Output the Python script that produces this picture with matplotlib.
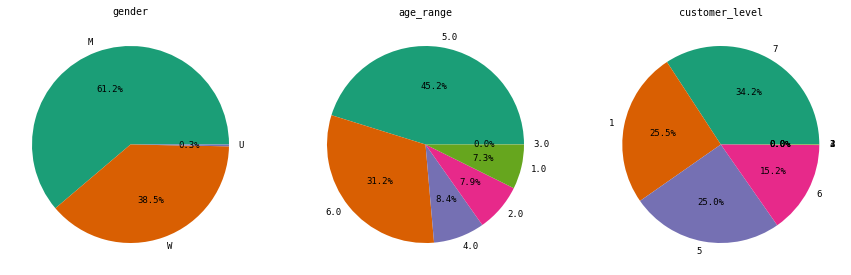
import numpy as np
import matplotlib
matplotlib.use('Agg')
import matplotlib.pyplot as plt

# value shares (percent)
gender_labels = ['M', 'W', 'U']
gender_vals = [61.2, 38.5, 0.3]

age_labels = ['5.0', '6.0', '4.0', '2.0', '1.0', '3.0']
age_vals = [45.2, 31.2, 8.4, 7.9, 7.3, 0.02]

level_labels = ['7', '1', '5', '6', '4', '3', '2']
level_vals = [34.2, 25.5, 25.0, 15.2, 0.04, 0.03, 0.02]

plt.rcParams['font.family'] = ['DejaVu Sans Mono']
plt.rcParams['font.size'] = 9

colors = plt.get_cmap('Dark2').colors

fig = plt.figure(figsize=(851/72, 275/72), dpi=72)
W, H = 851, 275
r = 98.5
centers = [130.5, 425.5, 720.8]
cy = 275 - 144.5
titles = ['gender', 'age_range', 'customer_level']
data = [(gender_labels, gender_vals), (age_labels, age_vals), (level_labels, level_vals)]

for cx, title, (labs, vals) in zip(centers, titles, data):
    ax = fig.add_axes([(cx - 1.25*r)/W, (cy - 1.25*r)/H, 2.5*r/W, 2.5*r/H])
    ax.pie(vals, labels=labs, autopct='%.1f%%', colors=colors)
    ax.set_title(title, fontsize=10)

fig.savefig('out.png', dpi=72)
